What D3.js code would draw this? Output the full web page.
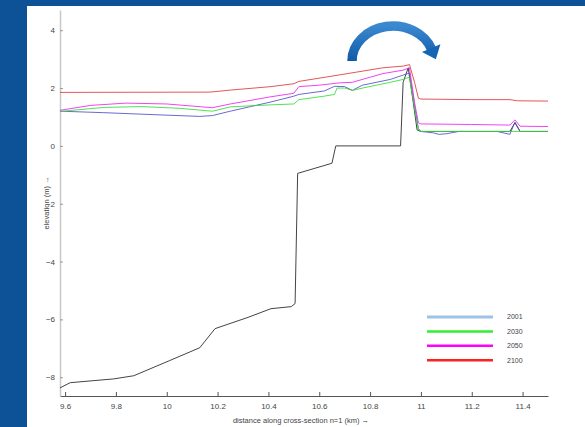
<!DOCTYPE html>
<html>
<head>
<meta charset="utf-8">
<script src="https://cdn.jsdelivr.net/npm/d3@7"></script>
<style>
  html, body { margin: 0; padding: 0; background: #0d5196; }
  svg { display: block; }
  text { font-family: "Liberation Sans", Arial, sans-serif; }
</style>
</head>
<body>
<svg id="svg"></svg>
<script>
// elevation profiles along cross-section n=1, [km, m]
const bed = [[9.58,-8.37],[9.62,-8.19],[9.71,-8.12],[9.79,-8.06],[9.87,-7.95],[10.01,-7.43],[10.13,-6.98],
  [10.19,-6.32],[10.32,-5.93],[10.41,-5.63],[10.49,-5.56],[10.505,-5.45],[10.515,-0.95],[10.65,-0.6],
  [10.665,0],[10.92,0],[10.93,2.2],[10.95,2.7],[10.97,1.5],[10.985,0.55],[11.0,0.5],[11.2,0.5],
  [11.35,0.5],[11.37,0.8],[11.39,0.5],[11.5,0.5]];
const wl2001 = [[9.58,1.2],[9.75,1.15],[9.95,1.08],[10.13,1.02],[10.18,1.05],[10.25,1.2],[10.41,1.52],
  [10.5,1.72],[10.52,1.78],[10.62,1.9],[10.66,2.06],[10.7,2.05],[10.73,1.92],[10.77,2.1],[10.88,2.3],
  [10.93,2.45],[10.955,2.52],[10.975,1.4],[10.99,0.6],[11.0,0.5],[11.05,0.45],[11.07,0.4],[11.1,0.42],
  [11.15,0.5],[11.3,0.5],[11.35,0.4],[11.37,0.82],[11.39,0.5],[11.5,0.5]];
const wl2030 = [[9.58,1.19],[9.75,1.33],[9.9,1.36],[10.05,1.3],[10.18,1.2],[10.25,1.35],[10.41,1.42],
  [10.5,1.45],[10.52,1.6],[10.62,1.72],[10.66,1.78],[10.67,2.0],[10.7,2.0],[10.73,1.92],[10.77,2.0],
  [10.88,2.2],[10.93,2.3],[10.955,2.38],[10.975,1.3],[10.99,0.55],[11.0,0.5],[11.5,0.5]];
const wl2050 = [[9.58,1.23],[9.7,1.4],[9.84,1.48],[10.0,1.45],[10.18,1.32],[10.25,1.45],[10.41,1.7],
  [10.5,1.82],[10.52,2.05],[10.6,2.1],[10.68,2.18],[10.73,2.2],[10.85,2.5],[10.93,2.62],[10.955,2.7],
  [10.975,1.5],[10.99,0.8],[11.0,0.76],[11.2,0.74],[11.35,0.72],[11.37,0.9],[11.39,0.68],[11.5,0.67]];
const wl2100 = [[9.58,1.85],[10.17,1.86],[10.25,1.93],[10.41,2.05],[10.5,2.15],[10.52,2.23],[10.69,2.47],
  [10.85,2.7],[10.93,2.76],[10.955,2.81],[10.975,2.2],[10.99,1.65],[11.0,1.62],[11.2,1.6],[11.35,1.6],
  [11.38,1.56],[11.5,1.55]];

const years = ["2001", "2030", "2050", "2100"];
const lineColors = ["#5050c8", "#33dd33", "#ee22ee", "#dd3a3a"];
const legendColors = ["#9dc3e6", "#33ee33", "#ff00ff", "#ff2020"];
const xTicks = [9.6, 9.8, 10, 10.2, 10.4, 10.6, 10.8, 11, 11.2, 11.4];
const yTicks = [-8, -6, -4, -2, 0, 2, 4];

const width = 585, height = 427;
const svg = d3.select('#svg')
    .attr('width', width)
    .attr('height', height);

// white panel
svg.append('rect')
    .attr('x', 27).attr('y', 6)
    .attr('width', width - 27).attr('height', height - 6)
    .attr('fill', '#fff');

const x = d3.scaleLinear().domain([9.58, 11.5]).range([60, 548]);
const y = d3.scaleLinear().domain([-8.65, 4.7]).range([396, 10]);

const xAxis = svg.append('g')
    .attr('transform', `translate(0,${y.range()[0]})`)
    .call(d3.axisBottom(x).tickValues(xTicks).tickSizeInner(-4).tickSizeOuter(0).tickPadding(7)
        .tickFormat(d => String(d)));
xAxis.select('.domain').attr('stroke', '#555');
xAxis.selectAll('.tick line').attr('stroke', '#555');
xAxis.selectAll('text').attr('fill', '#444').attr('font-size', 8);

const yAxis = svg.append('g')
    .attr('transform', `translate(${x.range()[0]},0)`)
    .call(d3.axisLeft(y).tickValues(yTicks).tickSizeInner(-3).tickSizeOuter(0).tickPadding(5));
yAxis.select('.domain').attr('stroke', '#c8c8c8').attr('stroke-width', 1.5);
yAxis.selectAll('.tick line').attr('stroke', '#999');
yAxis.selectAll('text').attr('fill', '#444').attr('font-size', 8);

svg.append('text')
    .attr('x', 301).attr('y', 423)
    .attr('text-anchor', 'middle')
    .attr('font-size', 7.5)
    .attr('fill', '#444')
    .text('distance along cross-section n=1 (km) \u2192');

svg.append('text')
    .attr('transform', 'translate(49,203) rotate(-90)')
    .attr('text-anchor', 'middle')
    .attr('font-size', 7.5)
    .attr('fill', '#444')
    .text('elevation (m) \u2192');

const line = d3.line().x(d => x(d[0])).y(d => y(d[1]));
const series = [wl2001, wl2030, wl2050, wl2100];

svg.append('path')
    .attr('d', line(bed))
    .attr('fill', 'none')
    .attr('stroke', '#444')
    .attr('stroke-width', 1);

svg.append('g')
    .selectAll('path')
    .data(series)
    .join('path')
        .attr('d', line)
        .attr('fill', 'none')
        .attr('stroke', (_d, i) => lineColors[i])
        .attr('stroke-opacity', 0.85)
        .attr('stroke-width', 1);

// legend
const legend = svg.append('g')
    .selectAll('g')
    .data(years)
    .join('g')
        .attr('transform', (_d, i) => `translate(427,${317 + i * 14.4})`);
legend.append('line')
    .attr('x1', 0).attr('x2', 66)
    .attr('stroke', (_d, i) => legendColors[i])
    .attr('stroke-width', (_d, i) => i === 0 ? 3 : 2.5);
legend.append('text')
    .attr('x', 80).attr('dy', '0.35em')
    .attr('font-size', 7)
    .attr('fill', '#444')
    .text(d => d);

// curved arrow over the crest
const defs = svg.append('defs');
const grad = defs.append('linearGradient')
    .attr('id', 'arrowGrad').attr('x1', 0).attr('y1', 0).attr('x2', 0).attr('y2', 1);
grad.append('stop').attr('offset', '0%').attr('stop-color', '#3a88d0');
grad.append('stop').attr('offset', '100%').attr('stop-color', '#0f5aa6');

const cx = 393, cy = 61, rx = 41, ry = 35;
const a0 = Math.PI, a1 = Math.PI * 0.11;
const pt = a => [cx + rx * Math.cos(a), cy - ry * Math.sin(a)];
const [sx, sy] = pt(a0), [ex, ey] = pt(a1);
svg.append('path')
    .attr('d', `M${sx},${sy}A${rx},${ry} 0 0 1 ${ex},${ey}`)
    .attr('fill', 'none')
    .attr('stroke', 'url(#arrowGrad)')
    .attr('stroke-width', 9.5);

// arrowhead along the tangent at the arc's end
let tx = rx * Math.sin(a1), ty = ry * Math.cos(a1);
const len = Math.hypot(tx, ty);
tx /= len; ty /= len;
const nx = ty, ny = -tx;
const tip = [ex + tx * 11, ey + ty * 11];
const b1 = [ex - tx * 1 + nx * 10, ey - ty * 1 + ny * 10];
const b2 = [ex - tx * 1 - nx * 10, ey - ty * 1 - ny * 10];
svg.append('path')
    .attr('d', `M${b1}L${tip}L${b2}Z`)
    .attr('fill', '#1466b4');
</script>
</body>
</html>
